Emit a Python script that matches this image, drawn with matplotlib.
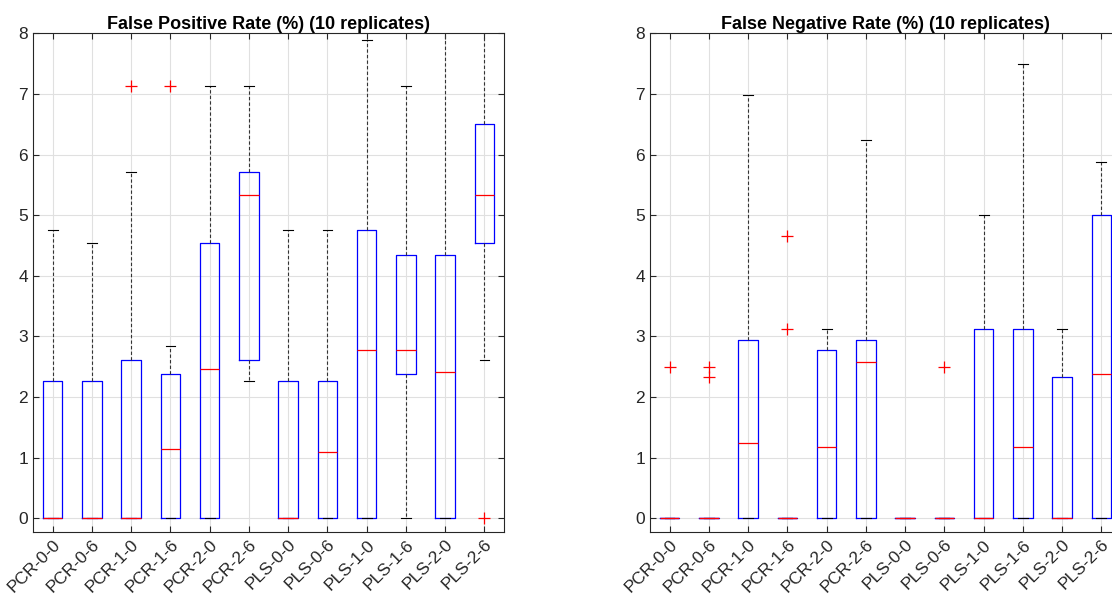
import matplotlib.pyplot as plt

plt.rcParams['font.family'] = ['Liberation Sans', 'DejaVu Sans']

labels = ['PCR-0-0', 'PCR-0-6', 'PCR-1-0', 'PCR-1-6', 'PCR-2-0', 'PCR-2-6',
          'PLS-0-0', 'PLS-0-6', 'PLS-1-0', 'PLS-1-6', 'PLS-2-0', 'PLS-2-6']

# false positive rate box stats
fp_q1 = [0, 0, 0, 0, 0, 2.62, 0, 0, 0, 2.38, 0, 4.54]
fp_med = [0, 0, 0, 1.14, 2.47, 5.33, 0, 1.09, 2.77, 2.77, 2.42, 5.33]
fp_q3 = [2.27, 2.27, 2.62, 2.38, 4.54, 5.72, 2.27, 2.27, 4.76, 4.35, 4.35, 6.51]
fp_lo = [0, 0, 0, 0, 0, 2.27, 0, 0, 0, 0, 0, 2.62]
fp_hi = [4.76, 4.54, 5.72, 2.85, 7.14, 7.14, 4.76, 4.76, 7.89, 7.14, 8.5, 8.7]
fp_out = [[], [], [7.14], [7.14], [], [], [], [], [], [], [], [0]]

# false negative rate box stats
fn_q1 = [0] * 12
fn_med = [0, 0, 1.25, 0, 1.17, 2.58, 0, 0, 0, 1.17, 0, 2.38]
fn_q3 = [0, 0, 2.94, 0, 2.78, 2.94, 0, 0, 3.13, 3.13, 2.33, 5.0]
fn_lo = [0] * 12
fn_hi = [0, 0, 6.98, 0, 3.13, 6.25, 0, 0, 5.0, 7.5, 3.13, 5.88]
fn_out = [[2.5], [2.5, 2.33], [], [3.13, 4.65], [], [], [], [2.5], [], [], [], []]


def make_stats(q1, med, q3, lo, hi, out):
    stats = []
    for i in range(len(labels)):
        stats.append(dict(q1=q1[i], med=med[i], q3=q3[i], whislo=lo[i],
                          whishi=hi[i], fliers=out[i], label=labels[i]))
    return stats


def draw(ax, stats, title):
    ax.bxp(stats, widths=0.5, capwidths=0.25, showfliers=True,
           boxprops=dict(color='#0000ff', linewidth=0.9),
           medianprops=dict(color='#ff0000', linewidth=0.9),
           whiskerprops=dict(color='#333333', linewidth=0.8, linestyle=(0, (3, 2))),
           capprops=dict(color='black', linewidth=0.8),
           flierprops=dict(marker='+', markeredgecolor='#ff0000', markersize=9,
                           markeredgewidth=0.9, linestyle='none'))
    ax.set_xlim(0.5, 12.5)
    ax.set_ylim(-0.23, 8)
    ax.set_yticks(range(0, 9))
    ax.set_xticklabels(labels, rotation=45, ha='right', rotation_mode='anchor')
    ax.grid(True, color='#e0e0e0', linewidth=0.8)
    ax.set_axisbelow(True)
    ax.tick_params(direction='in', top=True, right=True, length=4,
                   labelsize=12.5, colors='#262626')
    for s in ax.spines.values():
        s.set_color('#262626')
        s.set_linewidth(0.8)
    ax.set_title(title, fontsize=13, fontweight='bold', pad=3)


fig = plt.figure(figsize=(11.12, 5.98), dpi=100)
ax1 = fig.add_axes([0.0297, 0.110, 0.4236, 0.834])
ax2 = fig.add_axes([0.5845, 0.110, 0.4236, 0.834])

draw(ax1, make_stats(fp_q1, fp_med, fp_q3, fp_lo, fp_hi, fp_out),
     'False Positive Rate (%) (10 replicates)')
draw(ax2, make_stats(fn_q1, fn_med, fn_q3, fn_lo, fn_hi, fn_out),
     'False Negative Rate (%) (10 replicates)')

fig.savefig('out.png', dpi=100)
